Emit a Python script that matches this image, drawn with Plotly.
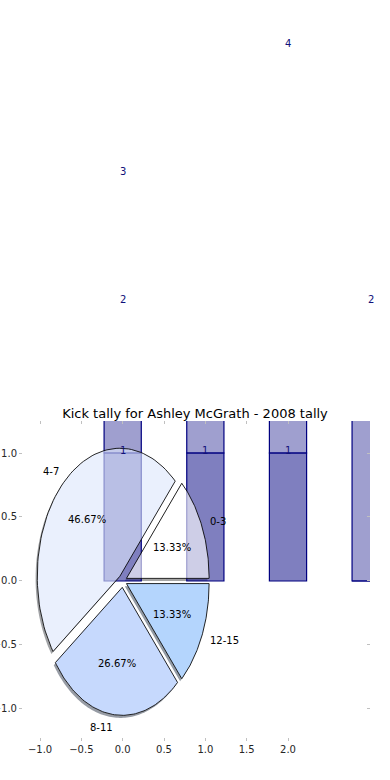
import numpy as np
import plotly.graph_objects as go

# ---------------- data ----------------
pie_labels = ["0-3", "4-7", "8-11", "12-15"]
pie_values = [2, 7, 4, 2]
pie_explode = [0.05, 0.05, 0.05, 0.05]
pie_colors = [(255, 255, 255), (221, 231, 251), (163, 193, 252), (134, 187, 252)]

bar_x = [0, 1, 2, 3]
bar_a = [1, 1, 1, 0]
bar_b = [2, 1, 4, 2]

label_a_x = [0, 1, 2]
label_a_val = [1, 1, 1]
label_b_x = [0, 0, 2, 3]
label_b_val = [2, 3, 4, 2]

title = "Kick tally for Ashley McGrath - 2008 tally"

FONT = "DejaVu Sans"
xr = [-1.206, 2.992]
yr = [-1.219, 1.25]

fig = go.Figure()

# bars (stacked)
fig.add_trace(go.Bar(x=bar_x, y=bar_a, width=0.45,
                     marker=dict(color="rgba(0,0,128,0.5)", line=dict(color="#000080", width=1.2)),
                     showlegend=False, hoverinfo="skip"))
fig.add_trace(go.Bar(x=bar_x, y=bar_b, base=bar_a, width=0.45,
                     marker=dict(color="rgba(0,0,128,0.375)", line=dict(color="#000080", width=1.2)),
                     showlegend=False, hoverinfo="skip"))

# pie geometry
total = sum(pie_values)
shapes = []
wedge_polys = []
start = 0.0
annotations = []
for lab, v, ex, col in zip(pie_labels, pie_values, pie_explode, pie_colors):
    sweep = 360.0 * v / total
    t1, t2 = start, start + sweep
    mid = np.deg2rad((t1 + t2) / 2)
    cx, cy = ex * np.cos(mid), ex * np.sin(mid)
    th = np.deg2rad(np.linspace(t1, t2, 80))
    xs = np.concatenate([[cx], cx + np.cos(th), [cx]])
    ys = np.concatenate([[cy], cy + np.sin(th), [cy]])
    wedge_polys.append((xs, ys, col))
    path = "M " + " L ".join(f"{x - 0.02:.4f},{y - 0.02:.4f}" for x, y in zip(xs, ys)) + " Z"
    sc = tuple(int(0.3 * c) for c in col)
    shapes.append(dict(type="path", path=path, xref="x", yref="y", layer="below",
                       fillcolor=f"rgba({sc[0]},{sc[1]},{sc[2]},0.5)", line=dict(width=0)))
    pct = 100.0 * v / total
    annotations.append(dict(x=cx + 0.6 * np.cos(mid), y=cy + 0.6 * np.sin(mid), xref="x", yref="y",
                            text=f"{pct:.2f}%", showarrow=False, xanchor="center", yanchor="middle",
                            borderpad=0, borderwidth=0,
                            font=dict(family=FONT, size=10, color="#000000")))
    lx, ly = cx + 1.1 * np.cos(mid), cy + 1.1 * np.sin(mid)
    annotations.append(dict(x=lx, y=ly, xref="x", yref="y", text=lab, showarrow=False,
                            xanchor="left" if lx > 0 else "right", yanchor="middle",
                            borderpad=0, borderwidth=0,
                            font=dict(family=FONT, size=10, color="#000000")))
    start = t2

for xs, ys, col in wedge_polys:
    path = "M " + " L ".join(f"{x:.4f},{y:.4f}" for x, y in zip(xs, ys)) + " Z"
    shapes.append(dict(type="path", path=path, xref="x", yref="y", layer="below",
                       fillcolor="white", line=dict(width=0)))

for xs, ys, col in wedge_polys:
    fig.add_trace(go.Scatter(x=xs, y=ys, mode="lines", fill="toself",
                             fillcolor=f"rgba({col[0]},{col[1]},{col[2]},0.62)",
                             line=dict(color="rgba(0,0,0,0.85)", width=1),
                             showlegend=False, hoverinfo="skip"))

# bar value labels (domain refs so they may spill outside the axes)
def xdom(v):
    return (v - xr[0]) / (xr[1] - xr[0])

def ydom(v):
    return (v - yr[0]) / (yr[1] - yr[0])

for x, v in zip(label_a_x, label_a_val):
    annotations.append(dict(x=xdom(x), y=ydom(v + 0.02), xref="x domain", yref="y domain",
                            text=str(v), showarrow=False, xanchor="center", yanchor="middle",
                            font=dict(family=FONT, size=10, color="#10107a")))
for x, v in zip(label_b_x, label_b_val):
    annotations.append(dict(x=xdom(x), y=ydom(v + 0.2), xref="x domain", yref="y domain",
                            text=str(v), showarrow=False, xanchor="center", yanchor="middle",
                            font=dict(family=FONT, size=10, color="#10107a")))

fig.add_trace(go.Scatter(x=[0], y=[0], xaxis="x2", yaxis="y2", mode="markers",
                         marker=dict(opacity=0), showlegend=False, hoverinfo="skip"))

xt = [-1.0, -0.5, 0.0, 0.5, 1.0, 1.5, 2.0]
yt = [-1.0, -0.5, 0.0, 0.5, 1.0]
tickfont = dict(family=FONT, size=10, color="#262626")

fig.update_layout(
    width=390, height=780,
    margin=dict(l=23, r=20, t=421, b=43, autoexpand=False),
    paper_bgcolor="white", plot_bgcolor="white",
    barmode="overlay",
    showlegend=False,
    title=dict(text=title, x=0.5, xanchor="center", y=1 - 413 / 780, yanchor="middle",
               yref="container", automargin=False,
               font=dict(family=FONT, size=13, color="#000000")),
    xaxis=dict(range=xr, tickvals=xt, ticktext=[f"{v:.1f}".replace("-", "\u2212") for v in xt],
               ticks="outside", ticklen=3, tickwidth=1, tickcolor="#c0c0c0", automargin=False,
               showgrid=False, zeroline=False, showline=False, tickfont=tickfont),
    yaxis=dict(range=yr, tickvals=yt, ticktext=[f"{v:.1f}".replace("-", "\u2212") for v in yt],
               ticks="outside", ticklen=3, tickwidth=1, tickcolor="#c0c0c0", automargin=False,
               showgrid=False, zeroline=False, showline=False, tickfont=tickfont),
    xaxis2=dict(range=xr, overlaying="x", side="top", tickvals=xt, ticks="inside", ticklen=3,
                tickcolor="#c0c0c0", showticklabels=False, showgrid=False, zeroline=False,
                automargin=False),
    yaxis2=dict(range=yr, overlaying="y", side="right", tickvals=yt, ticks="inside", ticklen=3,
                tickcolor="#c0c0c0", showticklabels=False, showgrid=False, zeroline=False,
                automargin=False),
    shapes=shapes,
    annotations=annotations,
)

fig.write_html("out.html", config={"displayModeBar": False},
               post_script="document.body.style.margin='0px';")
